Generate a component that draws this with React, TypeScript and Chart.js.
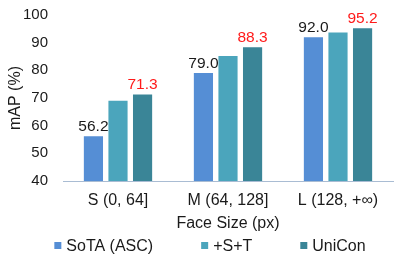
import React, { useEffect, useRef } from "react";
import { Chart, registerables } from "chart.js";

Chart.register(...registerables);

const categories = ["S (0, 64]", "M (64, 128]", "L (128, +\u221e)"];
const seriesNames = ["SoTA (ASC)", "+S+T", "UniCon"];
const sotaValues = [56.2, 79.0, 92.0];
const stValues = [69.0, 85.2, 93.7];
const uniconValues = [71.3, 88.3, 95.2];
const seriesColors = ["#558ED5", "#4BA5BC", "#3A8597"];
const labelColors = ["#1a1a1a", null, "#FF1A1A"];
const yTicks = [40, 50, 60, 70, 80, 90, 100];

const FONT = "'Liberation Sans', Arial, sans-serif";

const valueLabelPlugin = {
  id: "valueLabels",
  afterDatasetsDraw(chart: any) {
    const ctx = chart.ctx;
    ctx.save();
    ctx.font = `15.5px ${FONT}`;
    ctx.textAlign = "center";
    ctx.textBaseline = "bottom";
    chart.data.datasets.forEach((ds: any, di: number) => {
      const color = labelColors[di];
      if (!color) return;
      const meta = chart.getDatasetMeta(di);
      meta.data.forEach((bar: any, i: number) => {
        ctx.fillStyle = color;
        ctx.fillText(Number(ds.data[i]).toFixed(1), bar.x, bar.y - 2);
      });
    });
    ctx.restore();
  },
};

const legendPlugin = {
  id: "customLegend",
  afterDraw(chart: any) {
    const ctx = chart.ctx;
    ctx.save();
    ctx.font = `16px ${FONT}`;
    ctx.textBaseline = "middle";
    ctx.textAlign = "left";
    const box = 7;
    const boxGap = 5;
    const itemGap = 48;
    const items = chart.data.datasets.map((ds: any) => ({
      label: ds.label,
      color: ds.backgroundColor,
      w: ctx.measureText(ds.label).width,
    }));
    const total =
      items.reduce((s: number, it: any) => s + box + boxGap + it.w, 0) +
      itemGap * (items.length - 1);
    let x = chart.width / 2 + 10.5 - total / 2;
    const y = chart.height - 11.5;
    items.forEach((it: any) => {
      ctx.fillStyle = it.color;
      ctx.fillRect(x, y - box / 2, box, box);
      ctx.fillStyle = "#1a1a1a";
      ctx.fillText(it.label, x + box + boxGap, y + 1);
      x += box + boxGap + it.w + itemGap;
    });
    ctx.restore();
  },
};

export default function App() {
  const ref = useRef<HTMLCanvasElement | null>(null);
  useEffect(() => {
    document.body.style.margin = "0";
    const values = [sotaValues, stValues, uniconValues];
    const chart = new Chart(ref.current as HTMLCanvasElement, {
      type: "bar",
      data: {
        labels: categories,
        datasets: seriesNames.map((name, i) => ({
          label: name,
          data: values[i],
          backgroundColor: seriesColors[i],
          borderWidth: 0,
          categoryPercentage: 0.67,
          barPercentage: 0.78,
        })),
      },
      options: {
        animation: false,
        responsive: false,
        maintainAspectRatio: false,
        devicePixelRatio: 1,
        layout: { padding: { top: 15, right: 6, bottom: 23.4, left: 6 } },
        plugins: {
          legend: { display: false },
          tooltip: { enabled: false },
        },
        scales: {
          x: {
            grid: { display: false, drawTicks: true, tickLength: 8 },
            border: { display: true, color: "#A9BCD3", width: 1 },
            ticks: {
              color: "#1a1a1a",
              font: { family: FONT, size: 16 },
              padding: 2,
            },
            title: {
              display: true,
              text: "Face Size (px)",
              color: "#1a1a1a",
              font: { family: FONT, size: 16 },
              padding: { top: 2.2, bottom: 0 },
            },
          },
          y: {
            min: 40,
            max: 100,
            afterBuildTicks: (scale: any) => {
              scale.ticks = yTicks.map((v) => ({ value: v }));
            },
            afterFit: (scale: any) => {
              scale.width = 57;
            },
            grid: { display: false, drawTicks: true, tickLength: 13 },
            border: { display: false },
            ticks: {
              color: "#1a1a1a",
              font: { family: FONT, size: 15 },
              padding: 2,
            },
            title: {
              display: true,
              text: "mAP (%)",
              color: "#1a1a1a",
              font: { family: FONT, size: 16 },
              padding: { top: 0, bottom: 0 },
            },
          },
        },
      },
      plugins: [valueLabelPlugin, legendPlugin],
    });
    return () => chart.destroy();
  }, []);
  return (
    <div style={{ width: 399, height: 257 }}>
      <canvas ref={ref} width={399} height={257} style={{ display: "block" }} />
    </div>
  );
}
